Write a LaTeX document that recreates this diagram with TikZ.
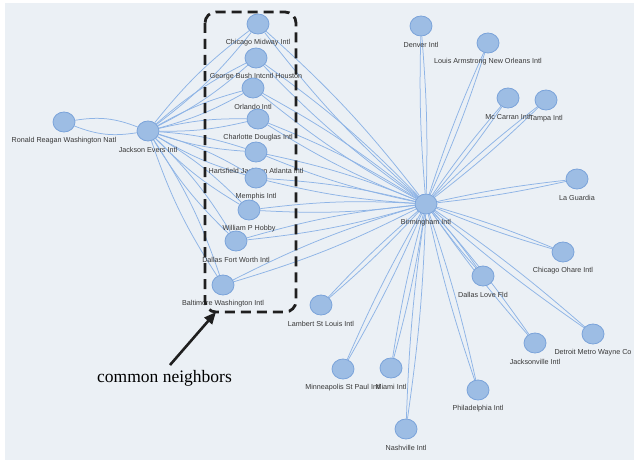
\documentclass[tikz,border=0pt]{standalone}
\usepackage{fontspec}
\setmainfont{Liberation Serif}
\setsansfont{Liberation Sans}
\usetikzlibrary{shapes.geometric,arrows.meta}
\definecolor{bgc}{RGB}{235,240,245}
\definecolor{nfill}{RGB}{157,189,228}
\definecolor{ndraw}{RGB}{122,163,218}
\definecolor{ecol}{RGB}{142,180,230}
\definecolor{tcol}{RGB}{55,55,55}
\pgfdeclarelayer{bg}\pgfdeclarelayer{lab}\pgfsetlayers{bg,lab,main}
\tikzset{
  apt/.style={ellipse, minimum width=22pt, minimum height=20pt, inner sep=0pt,
              fill=nfill, draw=ndraw, line width=0.8pt},
  lbl/.style={font=\sffamily\fontsize{7.2}{8}\selectfont, text=tcol, inner sep=0pt},
  edge/.style={draw=ecol, line width=0.75pt},
  boxline/.style={draw=black!88, line width=2.8pt, dash pattern=on 10pt off 6pt, rounded corners=11pt},
  pointer/.style={draw=black!88, line width=2.6pt, -{Triangle[length=12pt,width=10pt]}},
}
\newcommand\dbl[3][4]{\draw[edge] (#2) to[bend left=#1] (#3); \draw[edge] (#2) to[bend right=#1] (#3);}
\newcommand\apnode[4]{\node[apt] (#1) at (#2,#3) {};
  \begin{pgfonlayer}{lab}\node[lbl] (#1-l) at ([yshift=-19pt]#1.center) {#4};\end{pgfonlayer}}
\begin{document}
\begin{tikzpicture}[x=1pt,y=-1pt]
\useasboundingbox (0,0) rectangle (634,460);
\begin{pgfonlayer}{bg}
  \fill[white] (0,0) rectangle (634,460);
  \fill[bgc] (5,3) rectangle (634,460);
\end{pgfonlayer}
% nodes
\apnode{R}{64}{122}{Ronald Reagan Washington Natl}
\apnode{J}{148}{131}{Jackson Evers Intl}
\apnode{c1}{258}{24}{Chicago Midway Intl}
\apnode{c2}{256}{58}{George Bush Intcntl Houston}
\apnode{c3}{253}{88}{Orlando Intl}
\apnode{c4}{258}{119}{Charlotte Douglas Intl}
\apnode{c5}{256}{152}{Hartsfield Jackson Atlanta Intl}
\apnode{c6}{256}{178}{Memphis Intl}
\apnode{c7}{249}{210}{William P Hobby}
\apnode{c8}{236}{241}{Dallas Fort Worth Intl}
\apnode{c9}{223}{285}{Baltimore Washington Intl}
\apnode{B}{426}{204}{Birmingham Intl}
\apnode{den}{421}{26}{Denver Intl}
\apnode{msy}{488}{43}{Louis Armstrong New Orleans Intl}
\apnode{las}{508}{98}{Mc Carran Intl}
\apnode{tpa}{546}{100}{Tampa Intl}
\apnode{lga}{577}{179}{La Guardia}
\apnode{ord}{563}{252}{Chicago Ohare Intl}
\apnode{dal}{483}{276}{Dallas Love Fld}
\apnode{stl}{321}{305}{Lambert St Louis Intl}
\apnode{dtw}{593}{334}{Detroit Metro Wayne Co}
\apnode{jax}{535}{343}{Jacksonville Intl}
\apnode{phl}{478}{390}{Philadelphia Intl}
\apnode{mia}{391}{368}{Miami Intl}
\apnode{msp}{343}{369}{Minneapolis St Paul Intl}
\apnode{bna}{406}{429}{Nashville Intl}
% edges
\begin{pgfonlayer}{bg}
  \dbl[15]{R}{J}
  \foreach \c in {c1,c2,c3,c4,c5,c6,c7,c8,c9}{\dbl[7]{J}{\c}\dbl[5]{B}{\c}}
  \foreach \o in {den,msy,las,tpa,lga,ord,dal,stl,dtw,jax,phl,mia,msp,bna}{\dbl[3]{B}{\o}}
\end{pgfonlayer}
% common neighbours box and pointer
\draw[boxline] (205,12) rectangle (296,312);
\node[font=\fontsize{17.5}{20}\selectfont, anchor=base west, inner sep=0pt] (cn) at (97,382) {common neighbors};
\coordinate (atail) at (170,365);
\coordinate (ahead) at (216,312);
\draw[pointer] (atail) -- (ahead);
\end{tikzpicture}
\end{document}
